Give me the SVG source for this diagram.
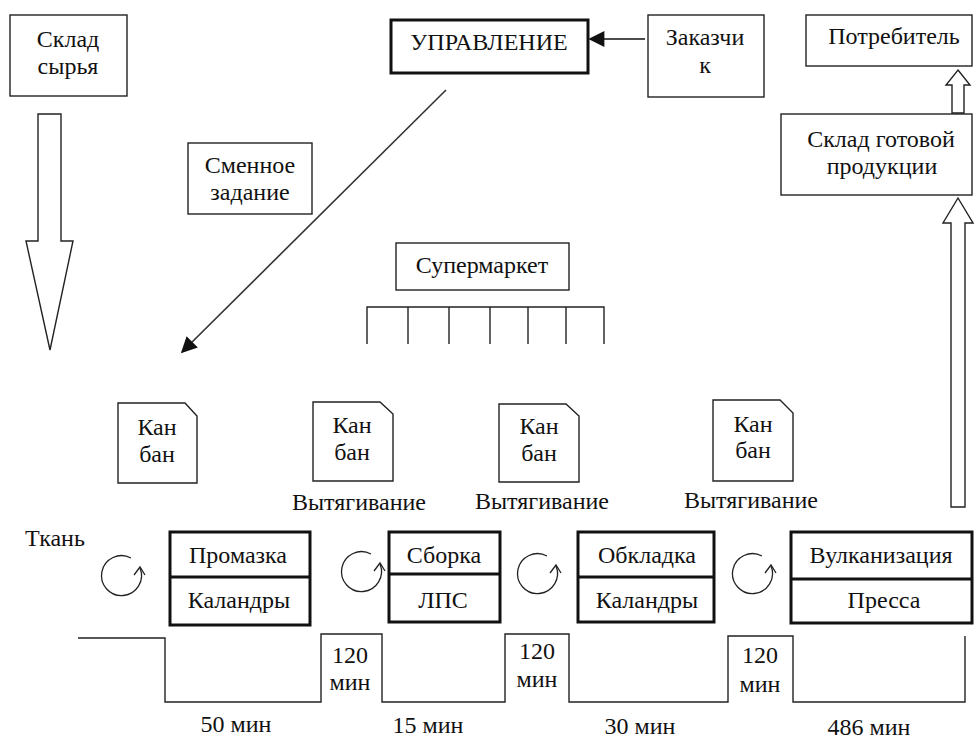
<svg xmlns="http://www.w3.org/2000/svg" width="974" height="742" viewBox="0 0 974 742">
<style>
text{font-family:"Liberation Serif","Times New Roman",Tinos,"DejaVu Serif",serif;font-size:24px;fill:#111;text-anchor:middle}
.b{fill:#fff;stroke:#222;stroke-width:1.4}
.bt{fill:#fff;stroke:#111;stroke-width:3}
.ln{fill:none;stroke:#222;stroke-width:1.4}
.th{fill:none;stroke:#111;stroke-width:3}
.cy{fill:none;stroke:#222;stroke-width:1.3}
</style>
<defs>
<marker id="ah2" viewBox="0 0 10 10" refX="9" refY="5" markerWidth="18" markerHeight="16" orient="auto" markerUnits="userSpaceOnUse">
<path d="M0,0 L10,5 L0,10 z" fill="#111"/>
</marker>
<g id="cyc">
<path class="cy" d="M14,-14 A20,20 0 1 0 23,-4"/>
<path class="cy" d="M17,3 L23,-5 L28,3"/>
</g>
</defs>

<g id="connectors">
<polygon class="ln" points="38,114 61,114 61,241 73,241 50,350 26,241 38,241"/>
<line x1="446" y1="90" x2="182" y2="352" stroke="#333" stroke-width="1.6" marker-end="url(#ah2)"/>
<line x1="645" y1="39" x2="590" y2="39" stroke="#111" stroke-width="1.4" marker-end="url(#ah2)"/>
<polygon class="ln" points="958,70 970,85 964,85 964,113 952,113 952,85 946,85"/>
<polygon class="ln" points="958,198 973,223 965,223 965,507 951,507 951,223 943,223"/>
<polyline class="ln" points="78,638 165,638 165,702 321,702 321,634 382,634 382,702 505,702 505,634 569,634 569,702 728,702 728,636 793,636 793,702 965,702 965,636"/>
<polyline class="ln" points="367,344 367,307 604,307 604,344"/>
<line class="ln" x1="408" y1="307" x2="408" y2="344"/>
<line class="ln" x1="449" y1="307" x2="449" y2="344"/>
<line class="ln" x1="490" y1="307" x2="490" y2="344"/>
<line class="ln" x1="528" y1="307" x2="528" y2="344"/>
<line class="ln" x1="566" y1="307" x2="566" y2="344"/>
<use href="#cyc" x="117" y="572"/>
<use href="#cyc" x="357" y="568"/>
<use href="#cyc" x="533" y="570"/>
<use href="#cyc" x="748" y="570"/>
</g>

<g id="sklad-syrya">
<rect class="b" x="10" y="15" width="117" height="81"/>
<text x="68" y="47">Склад</text>
<text x="68" y="74">сырья</text>
</g>
<g id="upravlenie">
<rect class="bt" x="391" y="20" width="197" height="53"/>
<text x="489" y="50">УПРАВЛЕНИЕ</text>
</g>
<g id="zakazchik">
<rect class="b" x="648" y="15" width="116" height="82"/>
<text x="705" y="45">Заказчи</text>
<text x="705" y="73">к</text>
</g>
<g id="potrebitel">
<rect class="b" x="806" y="15" width="166" height="51"/>
<text x="894" y="44">Потребитель</text>
</g>
<g id="sklad-gotovoy">
<rect class="b" x="781" y="114" width="191" height="81"/>
<text x="881" y="147">Склад готовой</text>
<text x="882" y="174">продукции</text>
</g>
<g id="smennoe">
<rect class="b" x="188" y="143" width="124" height="71"/>
<text x="250" y="173">Сменное</text>
<text x="250" y="200">задание</text>
</g>
<g id="supermarket">
<rect class="b" x="396" y="243" width="173" height="47"/>
<text x="482" y="273">Супермаркет</text>
</g>

<g id="kanban1">
<path class="b" d="M118,403 H185 L197,416 V483 H118 Z"/>
<text x="157" y="435">Кан</text>
<text x="157" y="462">бан</text>
</g>
<g id="kanban2">
<path class="b" d="M313,402 H380 L393,414 V481 H313 Z"/>
<text x="352" y="433">Кан</text>
<text x="352" y="460">бан</text>
</g>
<g id="kanban3">
<path class="b" d="M499,404 H566 L579,416 V482 H499 Z"/>
<text x="539" y="434">Кан</text>
<text x="539" y="461">бан</text>
</g>
<g id="kanban4">
<path class="b" d="M713,400 H780 L793,413 V481 H713 Z"/>
<text x="753" y="432">Кан</text>
<text x="753" y="458">бан</text>
</g>

<g id="labels">
<text x="359" y="510">Вытягивание</text>
<text x="542" y="509">Вытягивание</text>
<text x="751" y="508">Вытягивание</text>
<text x="55" y="546">Ткань</text>
<text x="350" y="663">120</text>
<text x="350" y="690">мин</text>
<text x="537" y="659">120</text>
<text x="537" y="687">мин</text>
<text x="760" y="663">120</text>
<text x="760" y="692">мин</text>
<text x="236" y="732">50 мин</text>
<text x="428" y="733">15 мин</text>
<text x="640" y="734">30 мин</text>
<text x="869" y="735">486 мин</text>
</g>

<g id="promazka">
<rect class="bt" x="170" y="532" width="140" height="93"/>
<line class="th" x1="170" y1="577" x2="310" y2="577"/>
<text x="238" y="563">Промазка</text>
<text x="239" y="608">Каландры</text>
</g>
<g id="sborka">
<rect class="bt" x="389" y="532" width="111" height="90"/>
<line class="th" x1="389" y1="574" x2="500" y2="574"/>
<text x="444" y="563">Сборка</text>
<text x="443" y="608">ЛПС</text>
</g>
<g id="obkladka">
<rect class="bt" x="578" y="532" width="136" height="90"/>
<line class="th" x1="578" y1="577" x2="714" y2="577"/>
<text x="647" y="563">Обкладка</text>
<text x="647" y="608">Каландры</text>
</g>
<g id="vulkanizatsiya">
<rect class="bt" x="791" y="532" width="181" height="91"/>
<line class="th" x1="791" y1="579" x2="972" y2="579"/>
<text x="881" y="563">Вулканизация</text>
<text x="884" y="608">Пресса</text>
</g>
</svg>
